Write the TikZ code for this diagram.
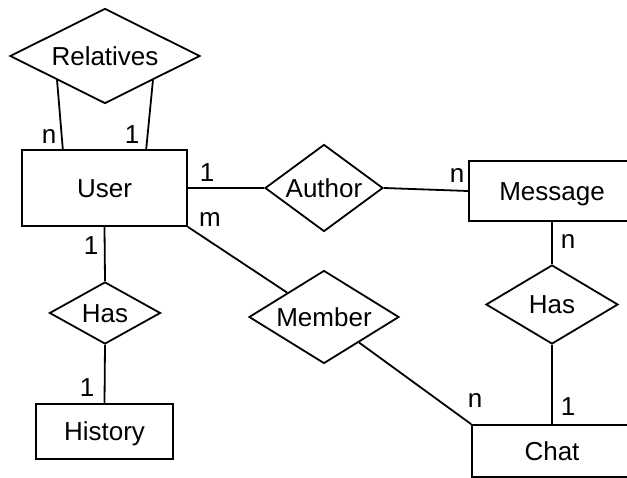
\documentclass[tikz,border=0pt]{standalone}
\usepackage{fontspec}
\setmainfont{Liberation Sans}
\usetikzlibrary{shapes.geometric,calc}
\begin{document}
\begin{tikzpicture}[x=1pt,y=-1pt,
  every node/.style={font=\fontsize{26}{31}\selectfont},
  ent/.style={draw, line width=1.8pt, rectangle, inner sep=0pt, text height=18.6pt, text depth=0pt},
  rel/.style={draw, line width=1.8pt, diamond, aspect=1.7, inner sep=0pt, text height=18.6pt, text depth=0pt},
  card/.style={anchor=base, inner sep=0pt},
  conn/.style={line width=1.8pt}]
\useasboundingbox (0,0) rectangle (627,478);
\clip (0,0) rectangle (627,478);
\node[rel, minimum width=190pt, minimum height=95pt] (relatives) at (105,56) {Relatives};
\node[ent, minimum width=165pt, minimum height=76pt] (user) at (104.5,188) {User};
\node[rel, minimum width=118pt, minimum height=87pt] (author) at (324,188) {Author};
\node[ent, minimum width=166pt, minimum height=60pt] (message) at (552,191) {Message};
\node[rel, minimum width=111pt, minimum height=62pt] (hasl) at (105,313) {Has};
\node[ent, minimum width=137pt, minimum height=55pt] (history) at (104.5,431.5) {History};
\node[rel, minimum width=150pt, minimum height=93pt] (member) at (324,317) {Member};
\node[rel, minimum width=132pt, minimum height=79pt] (hasr) at (552,304.5) {Has};
\node[ent, minimum width=160pt, minimum height=52pt] (chat) at (552,451) {Chat};
\draw[conn] (relatives.south west) -- ($(user.north west)!0.25!(user.north east)$);
\draw[conn] (relatives.south east) -- ($(user.north west)!0.75!(user.north east)$);
\draw[conn] (user.east) -- (author.west);
\draw[conn] (author.east) -- (message.west);
\draw[conn] (user.south east) -- (member);
\draw[conn] (member) -- (chat.north west);
\draw[conn] (user.south) -- (hasl.north);
\draw[conn] (hasl.south) -- (history.north);
\draw[conn] (message.south) -- (hasr.north);
\draw[conn] (hasr.south) -- (chat.north);
\node[card] (c1) at (49,144) {n};
\node[card] (c2) at (132,144) {1};
\node[card] (c3) at (207,182) {1};
\node[card] (c4) at (210,227) {m};
\node[card] (c5) at (91,255) {1};
\node[card] (c6) at (87,397) {1};
\node[card] (c7) at (457,183) {n};
\node[card] (c8) at (568,249) {n};
\node[card] (c9) at (475,408) {n};
\node[card] (c10) at (568,416) {1};
\end{tikzpicture}
\end{document}
